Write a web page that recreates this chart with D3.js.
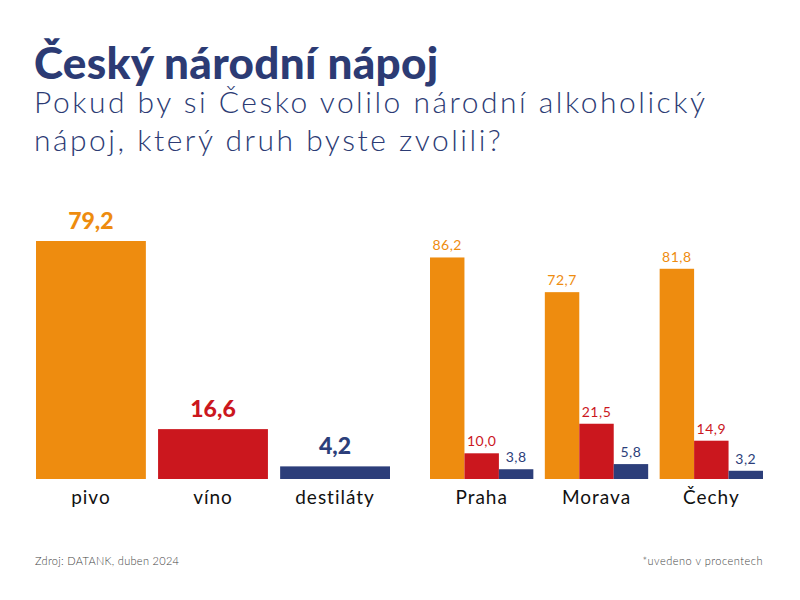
<!DOCTYPE html>
<html><head><meta charset="utf-8">
<script src="https://cdn.jsdelivr.net/npm/d3@7"></script>
<style>
html,body{margin:0;padding:0;background:#fff;}
svg text{font-family:Lato, "Noto Sans", sans-serif;}
</style></head>
<body>
<svg id="c" width="800" height="600"></svg>
<script>
const title = "Český národní nápoj";
const subtitleLines = ["Pokud by si Česko volilo národní alkoholický", "nápoj, který druh byste zvolili?"];
const source = "Zdroj: DATANK, duben 2024";
const note = "*uvedeno v procentech";

const drinks = ["pivo", "víno", "destiláty"];
const totalValues = [79.2, 16.6, 4.2];
const regions = ["Praha", "Morava", "Čechy"];
const pivoByRegion = [86.2, 72.7, 81.8];
const vinoByRegion = [10.0, 21.5, 14.9];
const destilatyByRegion = [3.8, 5.8, 3.2];
const colors = ["#EE8C0F", "#CB171E", "#2C3E7A"];

const navy = "#2C3B74";
const svg = d3.select("#c");
const fmt = v => d3.format(".1f")(v).replace(".", ",");

svg.append("text").attr("x", 34).attr("y", 79).attr("fill", navy)
  .attr("font-size", 44).attr("font-weight", 900).attr("letter-spacing", 0.3).text(title);
svg.append("g").selectAll("text").data(subtitleLines).join("text")
  .attr("x", 34).attr("y", (d, i) => 113 + i * 38).attr("fill", navy)
  .attr("font-size", 30).attr("font-weight", 300).attr("letter-spacing", 2.5).text(d => d);

const baseY = 479;
// Left chart
const xL = d3.scaleBand().domain(drinks).range([36, 390]).paddingInner(0.1).paddingOuter(0);
const yL = d3.scaleLinear().domain([0, 100]).range([baseY, baseY - 300.5]);
const left = svg.append("g");
left.selectAll("rect").data(drinks).join("rect")
  .attr("x", d => xL(d)).attr("width", xL.bandwidth())
  .attr("y", (d, i) => yL(totalValues[i])).attr("height", (d, i) => baseY - yL(totalValues[i]))
  .attr("fill", (d, i) => colors[i]);
left.selectAll("text.v").data(drinks).join("text").attr("class", "v")
  .attr("x", d => xL(d) + xL.bandwidth() / 2).attr("y", (d, i) => yL(totalValues[i]) - 12)
  .attr("text-anchor", "middle").attr("font-size", 23).attr("font-weight", 900)
  .attr("fill", (d, i) => colors[i]).text((d, i) => fmt(totalValues[i]));
const axL = svg.append("g").attr("transform", `translate(0,${baseY})`)
  .call(d3.axisBottom(xL).tickSize(0).tickPadding(12));
axL.select(".domain").remove();
axL.selectAll("text").attr("font-size", 19).attr("font-weight", 400).attr("fill", "#111")
  .attr("letter-spacing", 1).attr("font-family", "Lato, sans-serif");

// Right chart
const series = [pivoByRegion, vinoByRegion, destilatyByRegion];
const x0 = d3.scaleBand().domain(regions).range([430, 763]).paddingInner(0.1).paddingOuter(0);
const x1 = d3.scaleBand().domain(d3.range(3)).range([0, x0.bandwidth()]).padding(0);
const yR = d3.scaleLinear().domain([0, 100]).range([baseY, baseY - 257]);
const groups = svg.append("g").selectAll("g").data(regions).join("g")
  .attr("transform", d => `translate(${x0(d)},0)`);
groups.selectAll("rect").data((d, gi) => series.map((s, si) => ({si, v: s[gi]}))).join("rect")
  .attr("x", d => x1(d.si)).attr("width", x1.bandwidth())
  .attr("y", d => yR(d.v)).attr("height", d => baseY - yR(d.v))
  .attr("fill", d => colors[d.si]);
groups.selectAll("text").data((d, gi) => series.map((s, si) => ({si, v: s[gi]}))).join("text")
  .attr("x", d => x1(d.si) + x1.bandwidth() / 2).attr("y", d => yR(d.v) - 7)
  .attr("text-anchor", "middle").attr("font-size", 14).attr("font-weight", 400)
  .attr("letter-spacing", 0.5)
  .attr("fill", d => colors[d.si]).text(d => fmt(d.v));
const axR = svg.append("g").attr("transform", `translate(0,${baseY})`)
  .call(d3.axisBottom(x0).tickSize(0).tickPadding(12));
axR.select(".domain").remove();
axR.selectAll("text").attr("font-size", 19).attr("font-weight", 400).attr("fill", "#111")
  .attr("letter-spacing", 1).attr("font-family", "Lato, sans-serif");

svg.append("text").attr("x", 35).attr("y", 565).attr("font-size", 11).attr("fill", "#444")
  .attr("font-weight", 300).attr("letter-spacing", 0.3).text(source);
svg.append("text").attr("x", 763).attr("y", 565).attr("text-anchor", "end").attr("font-size", 11)
  .attr("fill", "#444").attr("font-weight", 300).attr("letter-spacing", 0.5).text(note);
</script>
</body></html>
